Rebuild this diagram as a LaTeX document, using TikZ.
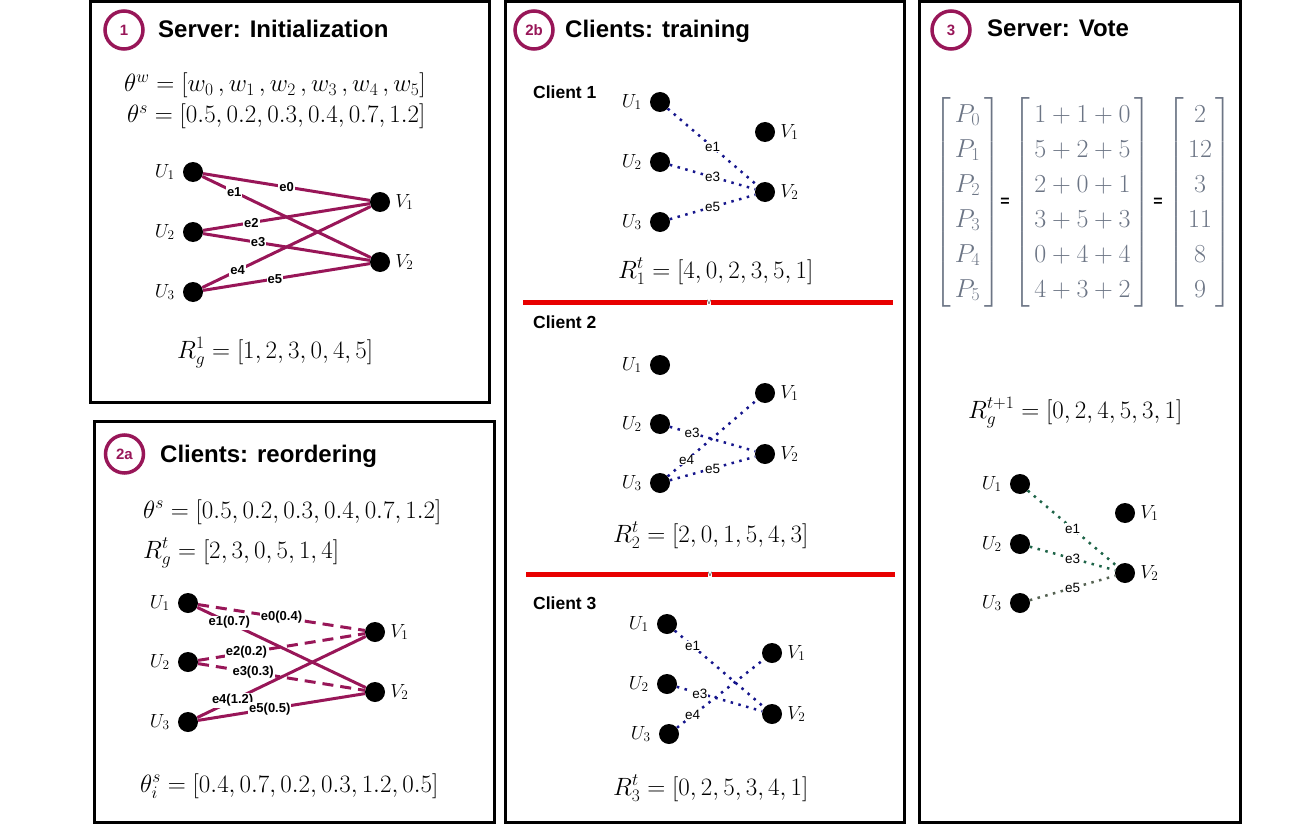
\documentclass[tikz,border=0pt]{standalone}
\usepackage{fix-cm}
\usepackage{amsmath}
\usepackage{fontspec}
\setsansfont{Liberation Sans}
\usetikzlibrary{positioning}
\definecolor{plum}{RGB}{152,22,88}
\definecolor{navydot}{RGB}{22,22,140}
\definecolor{greendot}{RGB}{30,100,72}
\definecolor{olivedot}{RGB}{85,98,82}
\definecolor{slate}{RGB}{108,117,133}
\definecolor{cutred}{RGB}{232,0,0}
\tikzset{
  panel/.style={draw=black, line width=3pt},
  badge/.style={circle, draw=plum, line width=3.5pt, minimum size=38pt, inner sep=0pt, text=plum, font=\sffamily\bfseries\fontsize{15}{15}\selectfont},
  ttl/.style={anchor=base west, inner sep=0pt, font=\sffamily\bfseries\fontsize{24}{28}\selectfont},
  eqn/.style={anchor=base west, inner sep=0pt, font=\fontsize{25}{30}\selectfont},
  vdot/.style={circle, fill=black, minimum size=20pt, inner sep=0pt},
  vlbl/.style={inner sep=0pt, font=\fontsize{19}{21}\selectfont},
  srv/.style={plum, line width=3pt},
  srvdash/.style={plum, line width=3pt, dash pattern=on 11pt off 7pt},
  dotline/.style={line width=2.5pt, dash pattern=on 2.5pt off 5.5pt},
  elbl/.style={fill=white, text=black, inner sep=1pt, font=\sffamily\bfseries\fontsize{13}{14}\selectfont},
  elbltwo/.style={fill=white, text=black, inner sep=0.5pt, font=\sffamily\fontsize{13.5}{14}\selectfont},
  client/.style={anchor=west, inner sep=0pt, font=\sffamily\bfseries\fontsize{17.5}{20}\selectfont},
  redcut/.style={cutred, line width=5pt},
  eqsign/.style={inner sep=0pt, font=\sffamily\bfseries\fontsize{16}{18}\selectfont},
  vmat/.style={inner sep=0pt, text=slate, font=\fontsize{26}{35}\selectfont},
  notch/.style={fill=white, inner sep=0.4pt, text=darkgray, font=\sffamily\fontsize{8}{8}\selectfont},
}
%頂点 (名前, 位置, ラベル)
\newcommand{\uvtx}[3]{
  \node[vdot] (#1) at (#2) {};
  \node[vlbl, left=8pt of #1] (#1l) {$#3$};
}
\newcommand{\vvtx}[3]{
  \node[vdot] (#1) at (#2) {};
  \node[vlbl, right=5pt of #1] (#1l) {$#3$};
}
%角括弧つき列
\newcommand{\colvec}[1]{\left[\hspace{4pt}\begin{matrix}#1\end{matrix}\hspace{4pt}\right]}

\begin{document}
\begin{tikzpicture}[x=1pt, y=-1pt]
\useasboundingbox (0,0) rectangle (1295,824);

%枠
\draw[panel] (90,1.5) rectangle (489.5,402);
\draw[panel] (94,421.5) rectangle (494.5,822);
\draw[panel] (505,1.5) rectangle (904.5,822);
\draw[panel] (919,1.5) rectangle (1240.5,822);

%(1) サーバ: 初期化
\node[badge] (b1) at (124,30) {1};
\node[ttl] (t1) at (158,38) {Server: Initialization};
\node[eqn] (w1) at (124,92) {$\theta^w=[w_0\,, w_1\,, w_2\,, w_3\,, w_4\,, w_5]$};
\node[eqn] (s1) at (127,123) {$\theta^s=[0.5, 0.2, 0.3, 0.4, 0.7, 1.2]$};
\uvtx{aU1}{193,172}{U_1}
\uvtx{aU2}{193,232}{U_2}
\uvtx{aU3}{193,292}{U_3}
\vvtx{aV1}{380,202}{V_1}
\vvtx{aV2}{380,262}{V_2}
\draw[srv] (aU1) -- node[elbl, pos=.5] (ae0) {e0} (aV1);
\draw[srv] (aU1) -- node[elbl, pos=.19] (ae1) {e1} (aV2);
\draw[srv] (aU2) -- node[elbl, pos=.29] (ae2) {e2} (aV1);
\draw[srv] (aU2) -- node[elbl, pos=.33] (ae3) {e3} (aV2);
\draw[srv] (aU3) -- node[elbl, pos=.21] (ae4) {e4} (aV1);
\draw[srv] (aU3) -- node[elbl, pos=.43] (ae5) {e5} (aV2);
\node[eqn] (r1) at (177,358) {$R_g^1=[1,2,3,0,4,5]$};

%(2a) クライアント: 並べ替え
\node[badge] (b2a) at (124.5,454) {2a};
\node[ttl] (t2a) at (160,462) {Clients: reordering};
\node[eqn] (s2a) at (143,518) {$\theta^s=[0.5, 0.2, 0.3, 0.4, 0.7, 1.2]$};
\node[eqn] (r2a) at (143,558) {$R_g^t=[2,3,0,5,1,4]$};
\uvtx{bU1}{188,603}{U_1}
\uvtx{bU2}{188,662}{U_2}
\uvtx{bU3}{188,722}{U_3}
\vvtx{bV1}{375,632}{V_1}
\vvtx{bV2}{375,692}{V_2}
\draw[srvdash] (bU1) -- node[elbl, pos=.5] (be0) {e0(0.4)} (bV1);
\draw[srv] (bU1) -- node[elbl, pos=.19] (be1) {e1(0.7)} (bV2);
\draw[srvdash] (bU2) -- node[elbl, pos=.29] (be2) {e2(0.2)} (bV1);
\draw[srvdash] (bU2) -- node[elbl, pos=.33] (be3) {e3(0.3)} (bV2);
\draw[srv] (bU3) -- node[elbl, pos=.21] (be4) {e4(1.2)} (bV1);
\draw[srv] (bU3) -- node[elbl, pos=.43] (be5) {e5(0.5)} (bV2);
\node[eqn] (si2a) at (140,792) {$\theta_i^s=[0.4, 0.7, 0.2, 0.3, 1.2, 0.5]$};

%(2b) クライアント: 学習
\node[badge] (b2b) at (534,30) {2b};
\node[ttl] (t2b) at (565,38) {Clients: training};

%Client 1
\node[client] (c1) at (533,92) {Client 1};
\uvtx{cU1}{660,102}{U_1}
\uvtx{cU2}{660,162}{U_2}
\uvtx{cU3}{660,222}{U_3}
\vvtx{cV1}{765,132}{V_1}
\vvtx{cV2}{765,192}{V_2}
\draw[dotline, navydot] (cU1) -- node[elbltwo, pos=.5] (ce1) {e1} (cV2);
\draw[dotline, navydot] (cU2) -- node[elbltwo, pos=.5] (ce3) {e3} (cV2);
\draw[dotline, navydot] (cU3) -- node[elbltwo, pos=.5] (ce5) {e5} (cV2);
\node[eqn] (r2b1) at (618,278) {$R_1^t=[4,0,2,3,5,1]$};

%区切り線
\coordinate (cutA) at (523,302);
\coordinate (cutB) at (893,302);
\draw[redcut] (cutA) -- (cutB);
\node[notch] (m1) at (709,302) {v};

%Client 2
\node[client] (c2) at (533,322) {Client 2};
\uvtx{dU1}{660,365}{U_1}
\uvtx{dU2}{660,424}{U_2}
\uvtx{dU3}{660,483}{U_3}
\vvtx{dV1}{765,393}{V_1}
\vvtx{dV2}{765,454}{V_2}
\draw[dotline, navydot] (dU2) -- node[elbltwo, pos=.26] (de3) {e3} (dV2);
\draw[dotline, navydot] (dU3) -- node[elbltwo, pos=.21] (de4) {e4} (dV1);
\draw[dotline, navydot] (dU3) -- node[elbltwo, pos=.5] (de5) {e5} (dV2);
\node[eqn] (r2b2) at (613,542) {$R_2^t=[2,0,1,5,4,3]$};

%区切り線
\coordinate (cutC) at (526,574);
\coordinate (cutD) at (895,574);
\draw[redcut] (cutC) -- (cutD);
\node[notch] (m2) at (710,574) {v};

%Client 3
\node[client] (c3) at (533,603) {Client 3};
\uvtx{eU1}{667,624}{U_1}
\uvtx{eU2}{667,684}{U_2}
\uvtx{eU3}{669,734}{U_3}
\vvtx{eV1}{772,653}{V_1}
\vvtx{eV2}{772,714}{V_2}
\draw[dotline, navydot] (eU1) -- node[elbltwo, pos=.2] (ee1) {e1} (eV2);
\draw[dotline, navydot] (eU2) -- node[elbltwo, pos=.27] (ee3) {e3} (eV2);
\draw[dotline, navydot] (eU3) -- node[elbltwo, pos=.18] (ee4) {e4} (eV1);
\node[eqn] (r2b3) at (613,795) {$R_3^t=[0,2,5,3,4,1]$};

%(3) サーバ: 投票
\node[badge] (b3) at (951,30) {3};
\node[ttl] (t3) at (987,37) {Server: Vote};
\node[vmat] (mP) at (967.5,202.5) {$\colvec{P_0\\P_1\\P_2\\P_3\\P_4\\P_5}$};
\node[eqsign] (q1) at (1005,202) {=};
\node[vmat] (mS) at (1082.5,202.5) {$\colvec{1+1+0\\5+2+5\\2+0+1\\3+5+3\\0+4+4\\4+3+2}$};
\node[eqsign] (q2) at (1158,202) {=};
\node[vmat] (mR) at (1200,202.5) {$\colvec{2\\12\\3\\11\\8\\9}$};
\node[eqn] (r3) at (968,418) {$R_g^{t+1}=[0,2,4,5,3,1]$};
\uvtx{fU1}{1020,484}{U_1}
\uvtx{fU2}{1020,544}{U_2}
\uvtx{fU3}{1020,603}{U_3}
\vvtx{fV1}{1125,513}{V_1}
\vvtx{fV2}{1125,573}{V_2}
\draw[dotline, greendot] (fU1) -- node[elbltwo, pos=.5] (fe1) {e1} (fV2);
\draw[dotline, greendot] (fU2) -- node[elbltwo, pos=.5] (fe3) {e3} (fV2);
\draw[dotline, olivedot] (fU3) -- node[elbltwo, pos=.5] (fe5) {e5} (fV2);
\end{tikzpicture}
\end{document}
